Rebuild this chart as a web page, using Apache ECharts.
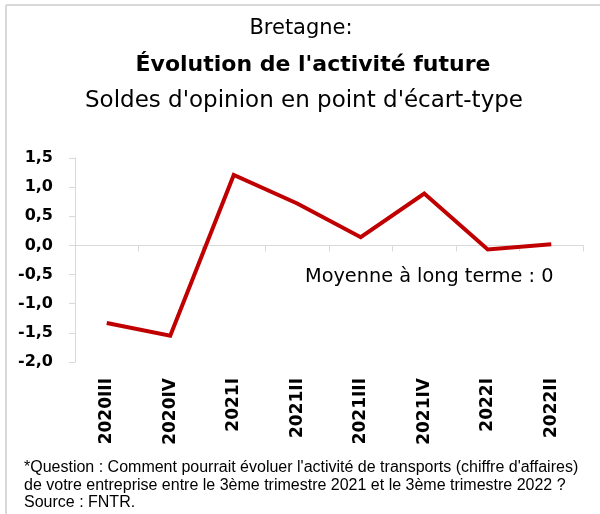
<!DOCTYPE html>
<html>
<head>
<meta charset="utf-8">
<script src="https://cdn.jsdelivr.net/npm/echarts@6/dist/echarts.min.js"></script>
<style>
  html, body { margin: 0; padding: 0; background: #fff; }
  #box { width: 600px; height: 514px; }
</style>
</head>
<body>
<div id="box"></div>
<script>
// trimestres
const categories = ["2020III", "2020IV", "2021I", "2021II", "2021III", "2021IV", "2022I", "2022II"];
// soldes d'opinion (point d'écart-type)
const values = [-1.33, -1.55, 1.21, 0.72, 0.14, 0.89, -0.07, 0.02];
const yMin = -2, yMax = 1.5, yStep = 0.5;

const font = "'DejaVu Sans', sans-serif";
const chart = echarts.init(document.getElementById("box"));

const option = {
  backgroundColor: "#fff",
  animation: false,
  grid: { left: 75, right: 17, top: 158, bottom: 152, containLabel: false },
  xAxis: [
    {
      // axe à zéro : ticks seulement
      type: "category",
      data: categories,
      axisLine: { onZero: true, lineStyle: { color: "#d9d9d9", width: 1 } },
      axisTick: { show: true, length: 6, lineStyle: { color: "#d9d9d9" } },
      axisLabel: { show: false }
    },
    {
      // étiquettes en bas
      type: "category",
      data: categories,
      position: "bottom",
      axisLine: { show: false, onZero: false },
      axisTick: { show: false },
      axisLabel: { rotate: 90, margin: 16, fontFamily: font, fontSize: 17, fontWeight: "bold", color: "#000" }
    }
  ],
  yAxis: {
    type: "value",
    min: yMin,
    max: yMax,
    interval: yStep,
    axisLine: { show: true, lineStyle: { color: "#d9d9d9" } },
    axisTick: { show: true, length: 6, lineStyle: { color: "#d9d9d9" } },
    splitLine: { show: false },
    axisLabel: {
      margin: 22,
      fontFamily: font, fontSize: 16, fontWeight: "bold", color: "#000",
      formatter: v => v.toFixed(1).replace(".", ",")
    }
  },
  series: [
    {
      type: "line",
      data: values,
      xAxisIndex: 0,
      symbol: "none",
      lineStyle: { color: "#c00000", width: 4, join: "miter" }
    }
  ],
  graphic: [
    { type: "line", shape: { x1: 6, y1: 5, x2: 600, y2: 5 }, style: { stroke: "#d9d9d9", lineWidth: 2 } },
    { type: "line", shape: { x1: 6, y1: 5, x2: 6, y2: 514 }, style: { stroke: "#d9d9d9", lineWidth: 2 } },
    { type: "text", x: 301, y: 29, style: { text: "Bretagne:", font: "21px " + font, fill: "#000", align: "center", verticalAlign: "middle" } },
    { type: "text", x: 313, y: 65, style: { text: "Évolution de l'activité future", font: "bold 22px " + font, fill: "#000", align: "center", verticalAlign: "middle" } },
    { type: "text", x: 304, y: 101, style: { text: "Soldes d'opinion en point d'écart-type", font: "23px " + font, fill: "#000", align: "center", verticalAlign: "middle" } },
    { type: "text", x: 305, y: 277, style: { text: "Moyenne à long terme : 0", font: "19.3px " + font, fill: "#000", verticalAlign: "middle" } },
    { type: "text", x: 24, y: 459, style: { text: "*Question : Comment pourrait évoluer l'activité de transports (chiffre d'affaires)\nde votre entreprise entre le 3ème trimestre 2021 et le 3ème trimestre 2022 ?\nSource : FNTR.", font: "16px 'Liberation Sans', Arial, sans-serif", lineHeight: 17.5, fill: "#000" } }
  ]
};
chart.setOption(option);
</script>
</body>
</html>
